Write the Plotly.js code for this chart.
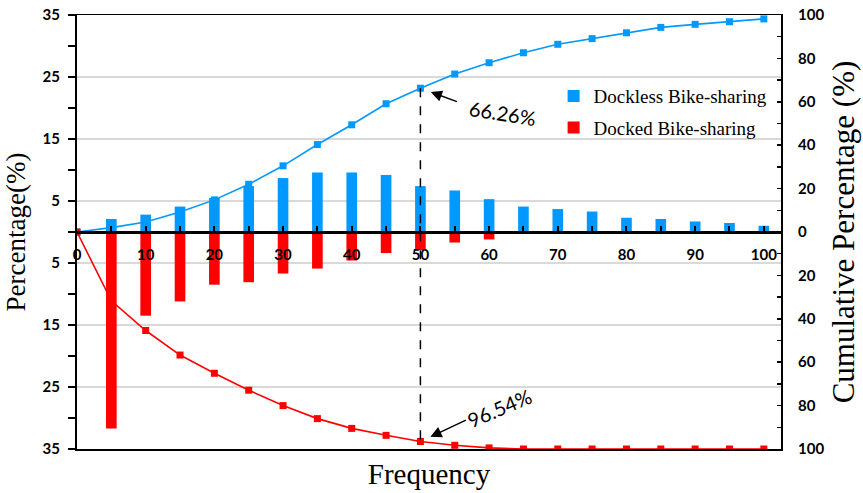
<!DOCTYPE html>
<html>
<head>
<meta charset="utf-8">
<script src="https://cdn.plot.ly/plotly-3.0.1.min.js"></script>
<style>html,body{margin:0;padding:0;background:#fff;}#chart{width:863px;height:493px;}</style>
</head>
<body>
<div id="chart"></div>
<script>
// ---- data ----
const frequency = [0,5,10,15,20,25,30,35,40,45,50,55,60,65,70,75,80,85,90,95,100];
const barFrequency = [5,10,15,20,25,30,35,40,45,50,55,60,65,70,75,80,85,90,95,100];
const docklessPct = [2.1,2.8,4.1,5.5,7.4,8.7,9.6,9.6,9.2,7.4,6.7,5.3,4.1,3.7,3.3,2.3,2.1,1.7,1.45,1.0];
const dockedPct   = [31.7,13.5,11.2,8.5,8.1,6.7,5.9,4.6,3.4,2.9,1.7,1.2,0.3,0,0,0,0,0,0,0];
const docklessCum = [0,2.0,4.6,9.2,14.8,22.0,30.5,40.3,49.4,59.1,66.26,72.8,78.0,82.6,86.5,89.1,91.8,94.3,95.7,96.9,98.2];
const dockedCum   = [0,31.7,45.4,56.7,65.1,72.9,80.0,86.0,90.5,93.7,96.54,98.3,99.5,100,100,100,100,100,100,100,100];
const xTickVals = [0,5,10,15,20,25,30,35,40,45,50,55,60,65,70,75,80,85,90,95,100];
const xTickText = ['0','','10','','20','','30','','40','','50','','60','','70','','80','','90','','100'];
const leftTickVals = [-35,-25,-15,-5,5,15,25,35];
const leftTickText = ['35','25','15','5','5','15','25','35'];
const leftMinorVals = [-30,-20,-10,0,10,20,30];
const rightTickVals = [-100,-80,-60,-40,-20,0,20,40,60,80,100];
const rightTickText = ['100','80','60','40','20','0','20','40','60','80','100'];
const rightMinorVals = [-90,-70,-50,-30,-10,10,30,50,70,90];
const markFreq = 50;
const names = ['Dockless Bike-sharing','Docked Bike-sharing'];

const BLUE = '#0099ff', RED = '#ff0000';
const tickFont = {family:'Lato, sans-serif', size:15, color:'#000', weight:'bold'};
const serif = 'Liberation Serif, Times New Roman, serif';

const traces = [
  {type:'bar', x:barFrequency, y:docklessPct, name:names[0], marker:{color:BLUE}, width:1.55,
   xaxis:'x', yaxis:'y', legendgroup:'a'},
  {type:'bar', x:barFrequency, y:dockedPct.map(v=>-v), name:names[1], marker:{color:RED}, width:1.55,
   xaxis:'x', yaxis:'y', legendgroup:'b'},
  {type:'scatter', mode:'lines+markers', x:frequency, y:docklessCum, showlegend:false,
   line:{color:BLUE, width:1.6}, marker:{symbol:'square', size:7, color:BLUE}, xaxis:'x2', yaxis:'y2'},
  {type:'scatter', mode:'lines+markers', x:frequency, y:dockedCum.map(v=>-v), showlegend:false,
   line:{color:RED, width:1.6}, marker:{symbol:'square', size:7, color:RED}, xaxis:'x2', yaxis:'y2'}
];

const mi = frequency.indexOf(markFreq);
const xr = [0, 102.5];

const layout = {
  width:863, height:493,
  margin:{l:77, r:82, t:15, b:44},
  paper_bgcolor:'#fff', plot_bgcolor:'#fff',
  barmode:'overlay',
  showlegend:true,
  legend:{x:0.677, xanchor:'left', y:0.857, yanchor:'top', bgcolor:'rgba(0,0,0,0)',
          font:{family:serif, size:19, color:'#000'}, traceorder:'grouped', tracegroupgap:4},
  xaxis:{range:xr, showline:true, mirror:true, linecolor:'#000', linewidth:1.5,
         showgrid:false, zeroline:false, ticks:'', showticklabels:false,
         title:{text:'Frequency', font:{family:serif, size:29, color:'#000'}, standoff:14}},
  xaxis2:{range:xr, overlaying:'x', anchor:'free', position:0.5, side:'bottom',
          tickmode:'array', tickvals:xTickVals, ticktext:xTickText,
          ticks:'inside', ticklen:5, tickwidth:2, tickcolor:'#000',
          showline:true, linecolor:'#000', linewidth:2.5, showgrid:false, zeroline:false,
          tickfont:tickFont, ticklabelstandoff:8},
  yaxis:{range:[-35,35], tickmode:'array', tickvals:leftTickVals, ticktext:leftTickText,
         ticks:'outside', ticklen:7, tickwidth:1.5, tickcolor:'#000',
         minor:{tickvals:leftMinorVals, ticks:'outside', ticklen:7, tickwidth:1.5, tickcolor:'#000', showgrid:false},
         showline:true, linecolor:'#000', linewidth:2,
         showgrid:true, gridcolor:'#d9d9d9', gridwidth:1.5, zeroline:false,
         tickfont:tickFont, ticklabelstandoff:5,
         title:{text:'Percentage(%)', font:{family:serif, size:27, color:'#000'}, standoff:9}},
  yaxis2:{range:[-100,100], overlaying:'y', side:'right', anchor:'x2',
          tickmode:'array', tickvals:rightTickVals, ticktext:rightTickText,
          ticks:'inside', ticklen:4, tickwidth:1.5, tickcolor:'#000',
          minor:{tickvals:rightMinorVals, ticks:'inside', ticklen:4, tickwidth:1.5, tickcolor:'#000', showgrid:false},
          showline:true, linecolor:'#000', linewidth:2, showgrid:false, zeroline:false,
          tickfont:tickFont, ticklabelstandoff:12,
          title:{text:'Cumulative Percentage (%)', font:{family:serif, size:31, color:'#000'}, standoff:9}},
  shapes:[
    {type:'line', xref:'x2', yref:'y2', x0:frequency[mi], x1:frequency[mi],
     y0:docklessCum[mi], y1:-dockedCum[mi], line:{color:'#000', width:1.5, dash:'dash'}}
  ],
  annotations:[
    {xref:'x2', yref:'y2', x:frequency[mi], y:docklessCum[mi], text:'', showarrow:true,
     ax:38, ay:14, standoff:11, arrowhead:2, arrowsize:1.5, arrowwidth:1.5, arrowcolor:'#000'},
    {xref:'x2', yref:'y2', x:frequency[mi], y:docklessCum[mi], text:docklessCum[mi].toFixed(2)+'%',
     showarrow:false, xshift:82, yshift:-25, textangle:9, font:{family:'Lato, sans-serif', size:20, color:'#000'}},
    {xref:'x2', yref:'y2', x:frequency[mi], y:-dockedCum[mi], text:'', showarrow:true,
     ax:47, ay:-22, standoff:11, arrowhead:2, arrowsize:1.5, arrowwidth:1.5, arrowcolor:'#000'},
    {xref:'x2', yref:'y2', x:frequency[mi], y:-dockedCum[mi], text:dockedCum[mi].toFixed(2)+'%',
     showarrow:false, xshift:79, yshift:33, textangle:-23, font:{family:'Lato, sans-serif', size:20, color:'#000'}}
  ]
};

Plotly.newPlot('chart', traces, layout, {displayModeBar:false, staticPlot:true});
</script>
</body>
</html>
